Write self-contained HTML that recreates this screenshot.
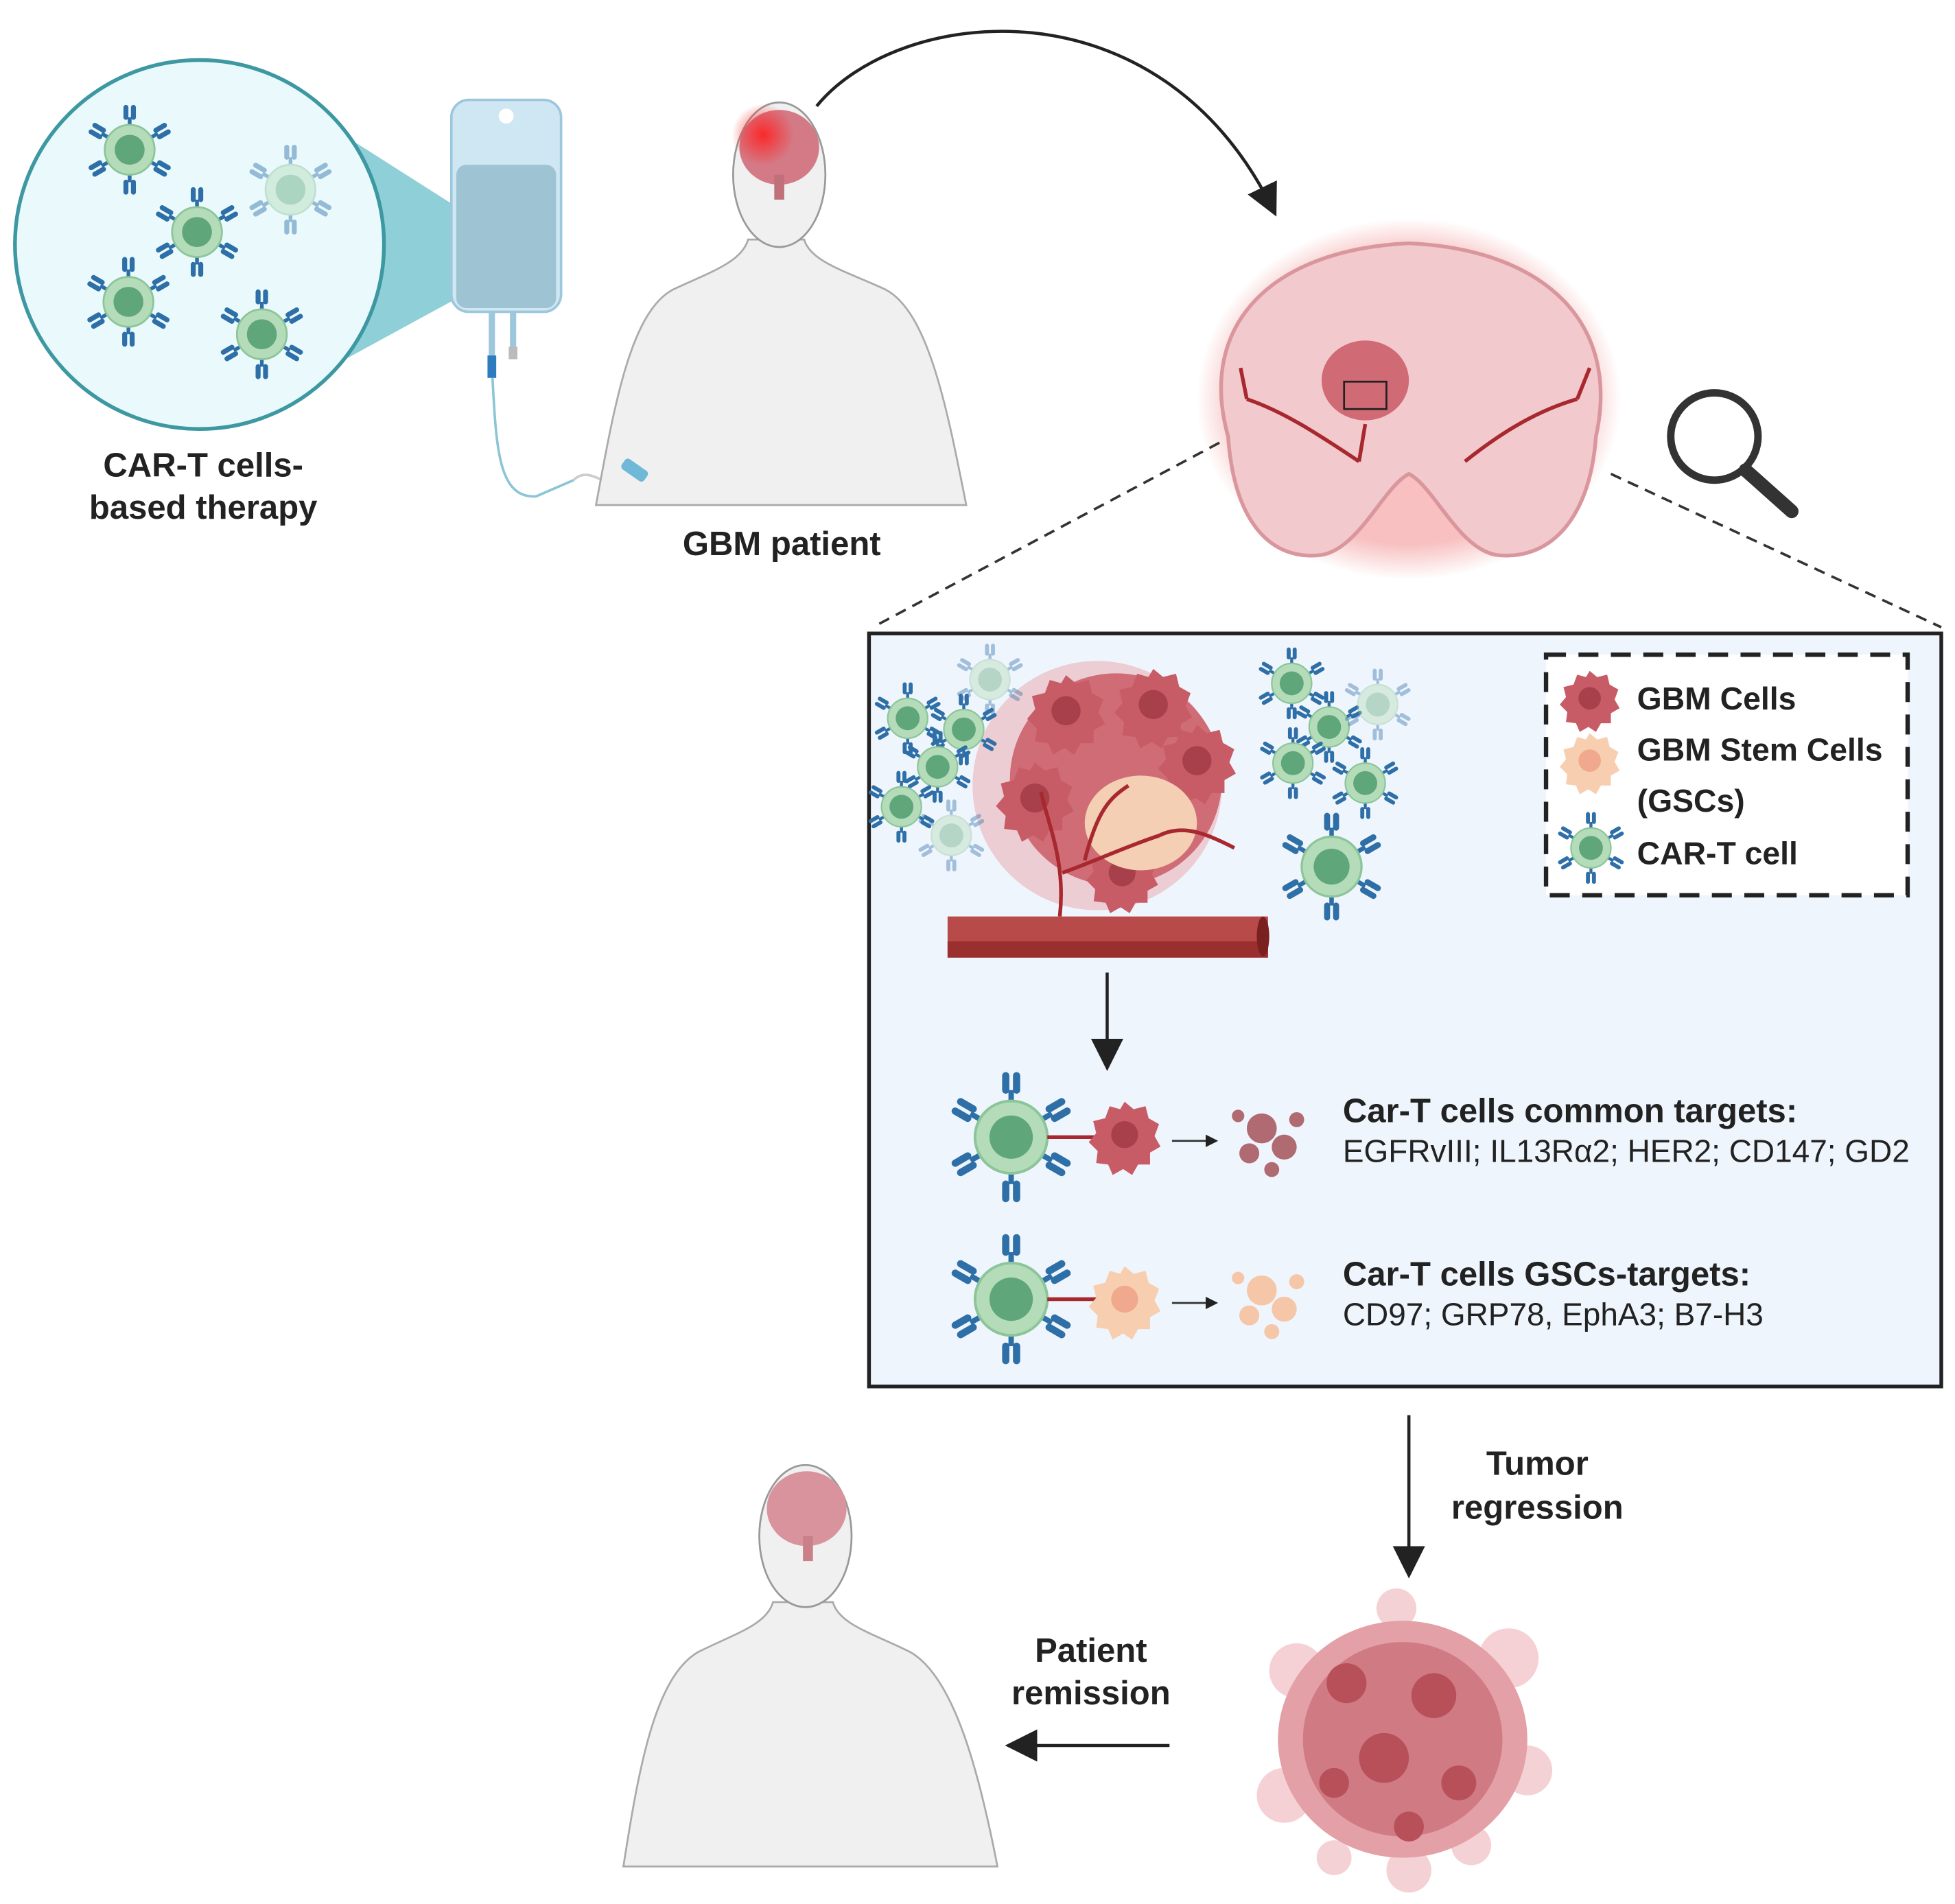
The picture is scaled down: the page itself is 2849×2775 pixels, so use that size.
<!DOCTYPE html>
<html><head><meta charset="utf-8"><style>
html,body{margin:0;padding:0;background:#fff}
svg{display:block}
text{font-family:"Liberation Sans",sans-serif}
</style></head><body>
<svg width="2849" height="2775" viewBox="0 0 1568 1527" xmlns="http://www.w3.org/2000/svg">
<defs>
<g id="ab"><rect x="-5" y="-14" width="4" height="12" rx="2" fill="#2e6fa8"/><rect x="1" y="-14" width="4" height="12" rx="2" fill="#2e6fa8"/><rect x="-1.5" y="-4" width="3" height="6" fill="#2e6fa8"/></g>
<g id="cart">
<use href="#ab" transform="rotate(0) translate(0,-22)"/>
<use href="#ab" transform="rotate(60) translate(0,-22)"/>
<use href="#ab" transform="rotate(120) translate(0,-22)"/>
<use href="#ab" transform="rotate(180) translate(0,-22)"/>
<use href="#ab" transform="rotate(240) translate(0,-22)"/>
<use href="#ab" transform="rotate(300) translate(0,-22)"/>
<circle r="20" fill="#b4dcb8" stroke="#8cc59a" stroke-width="1.5"/>
<circle r="12" fill="#5fa77a"/>
</g>
<g id="gbm"><path d="M0,-22 l6,5 8,-2 2,8 7,4 -3,8 4,7 -7,4 0,8 -8,0 -4,7 -6,-4 -7,4 -3,-7 -8,-1 1,-8 -6,-6 5,-6 -2,-8 8,-2 3,-8 7,2z" fill="#c85c66"/><circle r="9" fill="#a8404c"/></g>
<g id="gsc"><path d="M0,-22 l6,5 8,-2 2,8 7,4 -3,8 4,7 -7,4 0,8 -8,0 -4,7 -6,-4 -7,4 -3,-7 -8,-1 1,-8 -6,-6 5,-6 -2,-8 8,-2 3,-8 7,2z" fill="#f7cfb0"/><circle r="9" fill="#f1a98e"/></g>
<radialGradient id="glow"><stop offset="0" stop-color="#ff2020" stop-opacity="0.9"/><stop offset="1" stop-color="#ff2020" stop-opacity="0"/></radialGradient>
<radialGradient id="bglow"><stop offset="0.8" stop-color="#f08080" stop-opacity="0.5"/><stop offset="1" stop-color="#f08080" stop-opacity="0"/></radialGradient>
<marker id="ah" markerWidth="10" markerHeight="10" refX="8" refY="5" orient="auto" markerUnits="userSpaceOnUse"><path d="M0,0 L10,5 L0,10z" fill="#222"/></marker>
<marker id="ahb" markerWidth="26" markerHeight="26" refX="22" refY="13" orient="auto" markerUnits="userSpaceOnUse"><path d="M0,0 L26,13 L0,26z" fill="#222"/></marker>
</defs>

<!-- zoom circle -->
<polygon points="255,95 365,165 365,240 255,300" fill="#8fd0d8"/>
<circle cx="160" cy="196" r="148" fill="#eafafc" stroke="#3d98a2" stroke-width="3"/>
<use href="#cart" transform="translate(104,120)"/>
<use href="#cart" transform="translate(158,186)"/>
<use href="#cart" transform="translate(103,242)" />
<use href="#cart" transform="translate(210,268)"/>
<use href="#cart" transform="translate(233,152)" opacity="0.45"/>

<!-- IV bag -->
<rect x="362" y="80" width="88" height="170" rx="14" fill="#cfe7f3" stroke="#9cc7dc" stroke-width="2"/>
<rect x="366" y="132" width="80" height="115" rx="8" fill="#9ec4d3"/>
<circle cx="406" cy="93" r="6" fill="#fff"/>
<rect x="392" y="250" width="5" height="35" fill="#9cc7dc"/><rect x="409" y="250" width="5" height="35" fill="#9cc7dc"/>
<rect x="391" y="285" width="7" height="18" fill="#2e7bbd"/><rect x="408" y="278" width="7" height="10" fill="#bbb"/>
<path d="M395,303 C398,360 400,400 430,398 L460,385" fill="none" stroke="#8cc5d6" stroke-width="2"/>
<path d="M460,385 C470,375 480,385 495,390" fill="none" stroke="#ccc" stroke-width="2"/>

<!-- patient 1 -->
<path d="M478,405 C492,330 505,250 540,232 C570,218 595,210 600,192 L645,192 C650,210 680,218 710,232 C745,250 760,330 775,405 Z" fill="#f0f0f0" stroke="#aaa" stroke-width="1.5"/>
<ellipse cx="625" cy="140" rx="37" ry="58" fill="#f0f0f0" stroke="#999" stroke-width="1.5"/>
<ellipse cx="625" cy="118" rx="32" ry="30" fill="#d47a86"/>
<rect x="621" y="140" width="8" height="20" fill="#c0707a"/>
<circle cx="612" cy="108" r="25" fill="url(#glow)"/>
<rect x="498" y="372" width="22" height="10" rx="3" fill="#6fb8d8" transform="rotate(35 509 377)"/>
<text x="627" y="445" font-size="27" font-weight="bold" text-anchor="middle" fill="#222">GBM patient</text>
<text x="163" y="382" font-size="27" font-weight="bold" text-anchor="middle" fill="#222">CAR-T cells-</text>
<text x="163" y="416" font-size="27" font-weight="bold" text-anchor="middle" fill="#222">based therapy</text>

<!-- curved arrow -->
<path d="M655,85 C720,5 930,-20 1022,170" fill="none" stroke="#222" stroke-width="2.5" marker-end="url(#ahb)"/>

<!-- brain -->
<ellipse cx="1130" cy="320" rx="170" ry="145" fill="url(#bglow)"/>
<path d="M985,350 C960,260 1020,200 1130,195 C1240,200 1300,260 1280,350 C1275,420 1240,450 1200,445 C1170,440 1150,390 1130,380 C1110,390 1090,440 1060,445 C1020,450 990,420 985,350 Z" fill="#f2c9cc" stroke="#d9979d" stroke-width="3"/>
<ellipse cx="1095" cy="305" rx="35" ry="32" fill="#d06a74"/>
<rect x="1078" y="306" width="34" height="22" fill="none" stroke="#222" stroke-width="1.5"/>
<path d="M1000,320 C1030,330 1060,350 1090,370 M1265,320 C1230,330 1200,350 1175,370 M1090,370 L1095,340 M1000,320 L995,295 M1265,320 L1275,295" fill="none" stroke="#a82830" stroke-width="3"/>

<!-- magnifier -->
<circle cx="1375" cy="350" r="35" fill="#fff" stroke="#333" stroke-width="6"/>
<line x1="1400" y1="377" x2="1437" y2="410" stroke="#333" stroke-width="11" stroke-linecap="round"/>

<!-- dashed zoom lines -->
<line x1="978" y1="355" x2="700" y2="503" stroke="#333" stroke-width="2" stroke-dasharray="9,6"/>
<line x1="1292" y1="380" x2="1557" y2="503" stroke="#333" stroke-width="2" stroke-dasharray="9,6"/>

<!-- main box -->
<rect x="697" y="508" width="860" height="604" fill="#eff5fc" stroke="#222" stroke-width="3"/>
<rect x="1240" y="525" width="290" height="193" fill="#fff" stroke="#222" stroke-width="3.5" stroke-dasharray="16,10"/>
<use href="#gbm" transform="translate(1275,560)"/>
<use href="#gsc" transform="translate(1275,610)"/>
<use href="#cart" transform="translate(1276,680) scale(0.8)"/>
<g font-size="25.5" font-weight="bold" fill="#222">
<text x="1313" y="569">GBM Cells</text>
<text x="1313" y="610">GBM Stem Cells</text>
<text x="1313" y="651">(GSCs)</text>
<text x="1313" y="693">CAR-T cell</text>
</g>

<!-- tumor cluster -->
<circle cx="880" cy="630" r="100" fill="#e9b3b8" opacity="0.6"/>
<circle cx="895" cy="625" r="85" fill="#cf6c76"/>
<use href="#gbm" transform="translate(855,570) scale(1.3)"/><use href="#gbm" transform="translate(925,565) scale(1.3)"/>
<use href="#gbm" transform="translate(960,610) scale(1.3)"/><use href="#gbm" transform="translate(830,640) scale(1.3)"/>
<use href="#gbm" transform="translate(900,700) scale(1.2)"/>
<ellipse cx="915" cy="660" rx="45" ry="38" fill="#f5cfb3"/>
<path d="M850,735 C855,690 840,660 835,635 M852,700 C880,690 900,680 930,670 M870,690 C880,650 890,640 905,630 M930,670 C950,660 970,670 990,680" fill="none" stroke="#a82830" stroke-width="3"/>
<rect x="760" y="735" width="257" height="33" fill="#b84a4a"/>
<rect x="760" y="755" width="257" height="13" fill="#9a2f30"/>
<ellipse cx="1013" cy="751" rx="5" ry="16" fill="#7a2020"/>
<use href="#cart" transform="translate(728,576) scale(0.8)"/><use href="#cart" transform="translate(773,585) scale(0.8)"/>
<use href="#cart" transform="translate(752,615) scale(0.8)"/><use href="#cart" transform="translate(723,647) scale(0.8)"/>
<use href="#cart" transform="translate(794,545) scale(0.8)" opacity="0.4"/><use href="#cart" transform="translate(763,670) scale(0.8)" opacity="0.4"/>
<use href="#cart" transform="translate(1036,548) scale(0.8)"/><use href="#cart" transform="translate(1066,583) scale(0.8)"/>
<use href="#cart" transform="translate(1037,612) scale(0.8)"/><use href="#cart" transform="translate(1095,628) scale(0.8)"/>
<use href="#cart" transform="translate(1105,565) scale(0.8)" opacity="0.4"/>
<use href="#cart" transform="translate(1068,695) scale(1.2)"/>

<!-- down arrow -->
<line x1="888" y1="780" x2="888" y2="855" stroke="#222" stroke-width="2.5" marker-end="url(#ahb)"/>

<!-- row 1 -->
<use href="#cart" transform="translate(811,912) scale(1.45)"/>
<line x1="840" y1="912" x2="880" y2="912" stroke="#a82830" stroke-width="3"/>
<use href="#gbm" transform="translate(902,910) scale(1.2)"/>
<line x1="940" y1="915" x2="975" y2="915" stroke="#333" stroke-width="1.5" marker-end="url(#ah)"/>
<g fill="#b06a72"><circle cx="1012" cy="905" r="12"/><circle cx="1030" cy="920" r="10"/><circle cx="1002" cy="925" r="8"/><circle cx="1040" cy="898" r="6"/><circle cx="1020" cy="938" r="6"/><circle cx="993" cy="895" r="5"/></g>
<text x="1077" y="900" font-size="27" font-weight="bold" fill="#222">Car-T cells common targets:</text>
<text x="1077" y="932" font-size="25.3" fill="#222">EGFRvIII; IL13Rα2; HER2; CD147; GD2</text>

<!-- row 2 -->
<use href="#cart" transform="translate(811,1042) scale(1.45)"/>
<line x1="840" y1="1042" x2="880" y2="1042" stroke="#a82830" stroke-width="3"/>
<use href="#gsc" transform="translate(902,1042) scale(1.2)"/>
<line x1="940" y1="1045" x2="975" y2="1045" stroke="#333" stroke-width="1.5" marker-end="url(#ah)"/>
<g fill="#f5c6a8"><circle cx="1012" cy="1035" r="12"/><circle cx="1030" cy="1050" r="10"/><circle cx="1002" cy="1055" r="8"/><circle cx="1040" cy="1028" r="6"/><circle cx="1020" cy="1068" r="6"/><circle cx="993" cy="1025" r="5"/></g>
<text x="1077" y="1031" font-size="27" font-weight="bold" fill="#222">Car-T cells GSCs-targets:</text>
<text x="1077" y="1063" font-size="25.3" fill="#222">CD97; GRP78, EphA3; B7-H3</text>

<!-- tumor regression -->
<line x1="1130" y1="1135" x2="1130" y2="1262" stroke="#222" stroke-width="2.5" marker-end="url(#ahb)"/>
<text x="1233" y="1183" font-size="27" font-weight="bold" text-anchor="middle" fill="#222">Tumor</text>
<text x="1233" y="1218" font-size="27" font-weight="bold" text-anchor="middle" fill="#222">regression</text>
<g fill="#f2c6ca" opacity="0.8"><circle cx="1040" cy="1340" r="22"/><circle cx="1210" cy="1330" r="24"/><circle cx="1225" cy="1420" r="20"/><circle cx="1030" cy="1440" r="22"/><circle cx="1120" cy="1290" r="16"/><circle cx="1130" cy="1500" r="18"/><circle cx="1180" cy="1480" r="16"/><circle cx="1070" cy="1490" r="14"/></g>
<ellipse cx="1125" cy="1395" rx="100" ry="95" fill="#e3a0a6"/>
<ellipse cx="1125" cy="1395" rx="80" ry="78" fill="#d07a84"/>
<g fill="#b8505a"><circle cx="1080" cy="1350" r="16"/><circle cx="1150" cy="1360" r="18"/><circle cx="1110" cy="1410" r="20"/><circle cx="1170" cy="1430" r="14"/><circle cx="1070" cy="1430" r="12"/><circle cx="1130" cy="1465" r="12"/></g>

<!-- patient remission -->
<line x1="938" y1="1400" x2="810" y2="1400" stroke="#222" stroke-width="2.5" marker-end="url(#ahb)"/>
<text x="875" y="1333" font-size="27" font-weight="bold" text-anchor="middle" fill="#222">Patient</text>
<text x="875" y="1367" font-size="27" font-weight="bold" text-anchor="middle" fill="#222">remission</text>

<!-- patient 2 -->
<path d="M500,1497 C512,1420 525,1345 560,1325 C590,1310 615,1303 620,1285 L668,1285 C673,1303 700,1310 730,1325 C765,1345 785,1420 800,1497 Z" fill="#f0f0f0" stroke="#aaa" stroke-width="1.5"/>
<ellipse cx="646" cy="1232" rx="37" ry="57" fill="#f0f0f0" stroke="#999" stroke-width="1.5"/>
<ellipse cx="647" cy="1210" rx="32" ry="30" fill="#d9939c"/>
<rect x="644" y="1232" width="8" height="20" fill="#c98088"/>
</svg>
</body></html>
